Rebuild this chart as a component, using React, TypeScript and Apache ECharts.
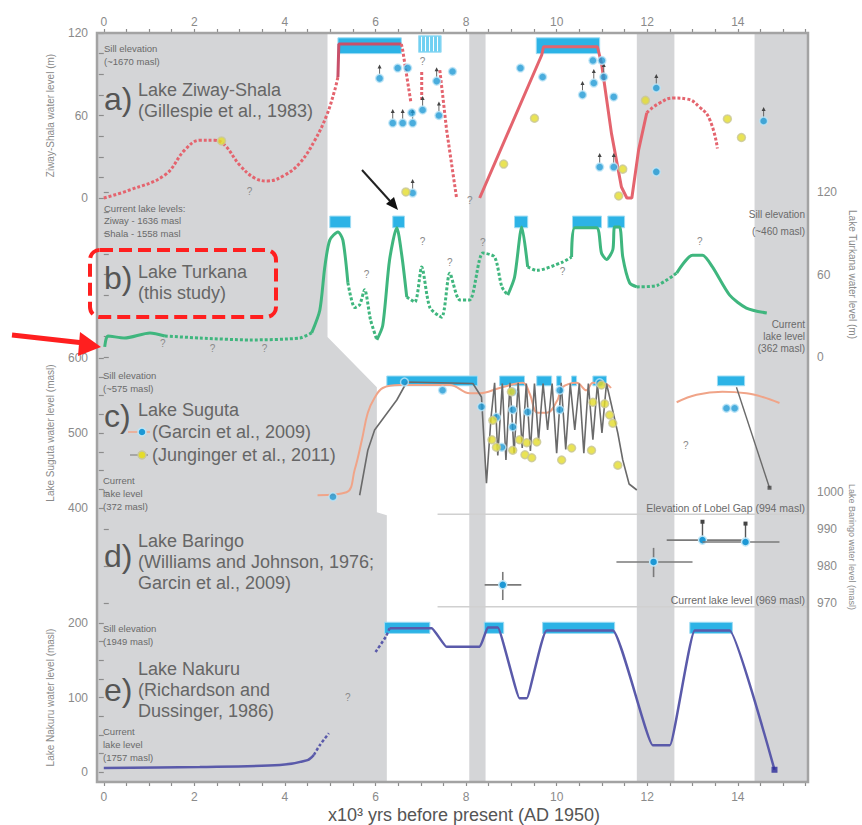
import React, { useEffect, useRef } from 'react';
import * as echarts from 'echarts';

const FONT = "'Liberation Sans', Arial, Helvetica, sans-serif";
const X_MIN = -0.15;
const X_MAX = 15.55;

// ---------- axes ----------
const xTickValues = [0, 0.5, 1, 1.5, 2, 2.5, 3, 3.5, 4, 4.5, 5, 5.5, 6, 6.5, 7, 7.5, 8, 8.5, 9, 9.5, 10, 10.5, 11, 11.5, 12, 12.5, 13, 13.5, 14, 14.5, 15, 15.5];
const xLabelValues = [0, 2, 4, 6, 8, 10, 12, 14];
const zwTickValues = [0, 15, 30, 45, 60, 75, 90, 105, 120];
const zwLabelValues = [0, 60, 120];
const tkTickValues = [0, 15, 30, 45, 60, 75, 90, 105, 120];
const tkLabelValues = [0, 60, 120];
const sgTickValues = [400, 425, 450, 475, 500, 525, 550, 575, 600];
const sgLabelValues = [400, 500, 600];
const brTickValues = [970, 980, 990, 1000];
const nkTickValues = [0, 25, 50, 75, 100, 125, 150, 175, 200];
const nkLabelValues = [0, 100, 200];

// ---------- dry phases (kyr BP). outline y = fraction of full plot height, 0 = top ----------
const dryBands = [[8.07, 8.43], [11.77, 12.6], [14.37, 15.55]];
const earlyDryOutline = [[-0.15, 0], [4.94, 0], [4.94, 0.406], [6.03, 0.473], [6.03, 0.64], [6.25, 0.644], [6.25, 1], [-0.15, 1]];

// ---------- a) Ziway-Shala (m above current) ----------
const zwCurveEarly = [[0, 0], [0.57, 5.8], [1.35, 16.7], [1.79, 35], [2.12, 42], [2.45, 42], [2.67, 38.5], [3.0, 24], [3.33, 14.5], [3.62, 12.4], [4.0, 16.7], [4.33, 25.5], [4.66, 42], [4.92, 60], [5.1, 78.5], [5.17, 88]];
const zwHighstand1 = [[5.17, 88], [5.19, 112], [6.57, 112]];
const zwFall1 = [[6.57, 112], [6.6, 107.6], [6.78, 69.8]];
const zwFall2 = [[7.02, 91.6], [7.02, 71.3]];
const zwFall3 = [[7.42, 93], [7.57, 49.5], [7.79, 0]];
const zwHighstand2 = [[8.3, 0], [9.67, 104], [9.71, 110], [10.9, 110], [10.99, 98], [11.21, 47], [11.43, 8], [11.55, 0], [11.66, 0], [11.81, 35], [11.99, 62]];
const zwLate = [[11.99, 62], [12.27, 69], [12.6, 72.7], [12.87, 72], [13.16, 66], [13.38, 57], [13.55, 36]];
const zwBars = [[5.17, 6.57, 105, 116.5], [9.55, 10.95, 105, 116.5]];
const zwStripedBars = [[6.95, 7.45, 106, 118]];
// x, y, 1 = minimum estimate (arrow up)
const zwBlue = [[6.09, 87, 1], [6.49, 94.5, 0], [6.71, 94.5, 0], [6.38, 54.5, 1], [6.6, 54.5, 1], [6.82, 54.5, 1], [6.8, 62, 0], [7.04, 64, 1], [6.82, 3.6, 1], [7.35, 85, 1], [7.7, 92, 0], [7.4, 60, 1], [9.2, 94.5, 0], [9.69, 88, 0], [10.8, 100, 0], [11.0, 100, 0], [10.82, 83.6, 1], [11.04, 88, 1], [10.57, 75, 1], [11.26, 73.5, 0], [12.2, 80, 1], [10.95, 22.5, 1], [11.26, 22.5, 1], [12.2, 19, 0], [14.57, 56, 1]];
const zwYellow = [[2.6, 41.5], [6.67, 4.4], [9.51, 58], [8.83, 24.7], [11.46, 21], [11.37, 1.5], [11.96, 71], [13.77, 57.5], [14.08, 44]];
const zwQuestion = [[3.22, 4.4], [7.04, 99], [8.08, -1.5]];

// ---------- b) Turkana (m above current); 3rd value: 1 = solid segment, 0 = dashed ----------
const tkLevel = [
  [0.02, 7.3, 1], [0.09, 15.3, 1], [0.46, 13.8, 1], [1.02, 17.5, 1], [1.35, 15.3, 0], [2.12, 13.8, 0], [3.22, 12.4, 0], [4.33, 13.8, 0],
  [4.59, 17.5, 1], [4.77, 34, 1], [4.88, 65.5, 1], [4.99, 85, 1], [5.17, 91, 1], [5.28, 85, 1], [5.39, 54, 0], [5.54, 36, 0], [5.65, 38, 0],
  [5.76, 49, 0], [5.89, 27, 0], [6.03, 12.4, 1], [6.16, 23, 1], [6.31, 70.5, 1], [6.47, 94, 1], [6.58, 74, 1], [6.69, 43.6, 0], [6.87, 40, 0],
  [7.02, 65.5, 0], [7.2, 36, 0], [7.46, 29, 0], [7.64, 61, 0], [7.86, 41.5, 0], [8.08, 41.5, 0], [8.37, 75.6, 0], [8.63, 72.7, 0],
  [8.79, 51, 0], [8.92, 45, 1], [9.07, 58, 1], [9.23, 94.5, 1], [9.36, 65.5, 0], [9.56, 63, 0], [10.13, 69, 0], [10.33, 72.7, 1],
  [10.4, 94, 1], [10.88, 94, 1], [10.99, 75.6, 1], [11.1, 71, 1], [11.24, 78, 1], [11.28, 94.5, 1], [11.39, 94.5, 1], [11.46, 72.7, 1],
  [11.61, 54, 1], [11.77, 51, 0], [12.21, 52, 0], [12.65, 61, 1], [13.0, 74, 1], [13.22, 74, 1], [13.44, 65.5, 1], [13.82, 45, 1],
  [14.19, 35.6, 1], [14.64, 32, 1]
];
const tkBars = [[4.99, 5.45, 94, 102.5], [6.38, 6.64, 94, 102.5], [9.07, 9.36, 94, 102.5], [10.35, 10.99, 94, 102.5], [11.13, 11.5, 94, 102.5]];
const tkQuestion = [[1.3, 10], [2.4, 6.5], [3.55, 6.5], [5.8, 60], [7.04, 84], [7.64, 69], [8.37, 83], [10.13, 62], [13.16, 84]];

// ---------- c) Suguta (masl) ----------
const sgModel1 = [[4.72, 417], [5.36, 421], [5.54, 451], [5.7, 491], [5.83, 527], [5.98, 547], [6.16, 560], [6.53, 564], [7.64, 564], [8.08, 553], [8.3, 553], [8.74, 560], [9.25, 567], [9.4, 553], [9.58, 527], [9.78, 527], [10.02, 544], [10.11, 560], [10.44, 567], [10.66, 557], [10.8, 567], [11.1, 565], [11.2, 560]];
const sgModel2 = [[12.65, 541], [13.09, 551], [13.66, 555], [14.19, 553], [14.55, 548], [14.92, 540]];
const sgRecon1 = [[5.65, 417], [5.83, 477], [5.98, 504], [6.47, 544], [6.69, 568], [8.15, 566], [8.34, 548], [8.45, 433], [8.55, 520], [8.63, 567], [8.7, 470], [8.8, 566], [8.88, 464], [8.97, 567], [9.06, 473], [9.15, 567], [9.24, 480], [9.33, 566], [9.42, 476], [9.51, 566], [9.6, 490], [9.7, 566], [9.8, 504], [9.9, 566], [10.0, 473], [10.1, 567], [10.2, 478], [10.3, 566], [10.4, 504], [10.5, 566], [10.6, 473], [10.7, 566], [10.8, 491], [10.9, 566], [11.0, 500], [11.1, 566], [11.2, 540], [11.35, 500], [11.46, 464], [11.6, 432], [11.77, 424]];
const sgRecon2 = [[13.97, 561], [14.7, 427]];
const sgBars = [[6.25, 8.25, 563, 576], [8.74, 9.29, 563, 576], [9.56, 9.89, 563, 576], [10.0, 10.1, 563, 576], [10.33, 10.44, 563, 576], [10.8, 11.1, 563, 576], [13.55, 14.15, 563, 576]];
const sgBlue = [[5.06, 415], [6.64, 568], [7.48, 557], [8.34, 535], [8.67, 521], [8.79, 481], [9.03, 555], [9.03, 531], [9.03, 508], [9.36, 528], [10.07, 557], [10.07, 531], [10.95, 567], [13.75, 533], [13.93, 533]];
const sgYellow = [[8.59, 517], [8.57, 491], [8.67, 481], [9.03, 477], [9.18, 491], [9.34, 487], [9.56, 488], [9.3, 471], [9.45, 467], [10.11, 464], [10.33, 480], [10.77, 477], [10.8, 541], [11.06, 539], [10.99, 564], [11.17, 524], [11.24, 513], [11.35, 457], [9.0, 555]];
const sgQuestion = [[12.85, 484]];

// ---------- d) Baringo (masl): x, y, xMin, xMax, yMin, yMax, minimum-only flag ----------
const brPoints = [
  [8.81, 974.9, 8.41, 9.22, 970.8, 978.4, 0],
  [12.14, 981.1, 11.32, 13.0, 977, 984.9, 0],
  [13.22, 987, 12.43, 14.17, 987, 987, 1],
  [14.17, 986.5, 13.22, 14.92, 986.5, 986.5, 1]
];
const brLobelGap = [[7.37, 994], [15.55, 994]];
const brCurrent = [[7.37, 969], [15.55, 969]];

// ---------- e) Nakuru (m above current) ----------
const nkEarly = [[0, 5.4], [2.12, 6.7], [3.89, 9.4], [4.5, 16], [4.64, 23]];
const nkEarlyDashed = [[4.64, 23], [4.77, 36], [4.97, 52]];
const nkRiseDashed = [[6.0, 161], [6.23, 182], [6.31, 193]];
const nkMain = [[6.31, 193], [7.24, 193], [7.57, 168], [8.3, 168], [8.48, 194], [8.7, 194], [9.18, 99], [9.34, 99], [9.78, 190], [11.24, 190], [12.12, 36], [12.5, 36], [13.05, 190], [13.82, 190], [14.81, 3]];
const nkBars = [[6.2, 7.2, 186, 201], [8.4, 8.83, 186, 201], [9.69, 11.28, 186, 201], [12.94, 13.88, 186, 201]];
const nkQuestion = [[5.39, 100]];

// ---------- styles ----------
const GREY = '#d4d5d7';
const AXIS_GREY = '#8c8c8c';
const TEXT_GREY = '#6a6a6a';
const BLUE_BAR = '#2cb3e6';
const BLUE_DOT = '#1d98d5';
const YELLOW_DOT = '#e4dc2a';
const RED = '#e4646e';
const GREEN = '#3fb67e';
const NAKURU = '#5a5aaa';

const ax = (p: number) => ({ xAxisIndex: p + 1, yAxisIndex: p });

const line = (p: number, data: number[][], color: string, width: number, dashed = false, smooth: number | boolean = false, z = 4) => ({
  type: 'line', ...ax(p), data, symbol: 'none', showSymbol: false, smooth, clip: false, z, silent: true,
  lineStyle: { color, width, type: dashed ? [3, 2] : 'solid' }
});

const dots = (p: number, data: number[][], color: string, border: string, size = 8, z = 6) => ({
  type: 'scatter', ...ax(p), data, symbol: 'circle', symbolSize: size, clip: false, z, silent: true,
  itemStyle: { color, borderColor: border, borderWidth: 1.5 }
});

// small "minimum estimate" arrows above flagged points
const minArrows = (p: number, data: number[][]) => ({
  type: 'custom', ...ax(p), data: data.filter((d) => d[2] === 1), clip: false, z: 5, silent: true,
  renderItem: (params: any, api: any) => {
    const c = api.coord([api.value(0), api.value(1)]);
    return {
      type: 'group', children: [
        { type: 'line', shape: { x1: c[0], y1: c[1] - 4, x2: c[0], y2: c[1] - 11 }, style: { stroke: '#666', lineWidth: 1 } },
        { type: 'polygon', shape: { points: [[c[0], c[1] - 14], [c[0] - 2, c[1] - 10], [c[0] + 2, c[1] - 10]] }, style: { fill: '#444' } }
      ]
    };
  }
});

const bars = (p: number, data: number[][], color: string, striped = false) => ({
  type: 'custom', ...ax(p), data, clip: false, z: 3, silent: true,
  renderItem: (params: any, api: any) => {
    const a = api.coord([api.value(0), api.value(3)]);
    const b = api.coord([api.value(1), api.value(2)]);
    const w = b[0] - a[0];
    const h = b[1] - a[1];
    const children: any[] = [{ type: 'rect', shape: { x: a[0], y: a[1], width: w, height: h }, style: { fill: color, stroke: '#9fdcf3', lineWidth: 1 } }];
    if (striped) {
      for (let sx = a[0] + 3; sx < a[0] + w - 1; sx += 4) {
        children.push({ type: 'line', shape: { x1: sx, y1: a[1] + 1, x2: sx, y2: a[1] + h - 1 }, style: { stroke: '#ffffff', lineWidth: 1 } });
      }
    }
    return { type: 'group', children };
  }
});

const questions = (p: number, data: number[][]) => ({
  type: 'custom', ...ax(p), data, clip: false, z: 7, silent: true,
  renderItem: (params: any, api: any) => {
    const c = api.coord([api.value(0), api.value(1)]);
    return { type: 'text', x: c[0], y: c[1], style: { text: '?', fill: '#8a8a8a', font: `10px ${FONT}`, align: 'center', verticalAlign: 'middle' } };
  }
});

// split a flagged point list into solid / dashed runs
const flaggedRuns = (pts: number[][]) => {
  const runs: { solid: boolean; data: number[][] }[] = [];
  for (let i = 0; i < pts.length - 1; i++) {
    const solid = pts[i][2] === 1;
    const seg = [[pts[i][0], pts[i][1]], [pts[i + 1][0], pts[i + 1][1]]];
    const last = runs[runs.length - 1];
    if (last && last.solid === solid) last.data.push(seg[1]);
    else runs.push({ solid, data: seg });
  }
  return runs;
};

const yAxisBase = (grid: number, position: string, min: number, max: number, ticks: number[], labels: number[], name: string, nameGap: number, rotate: number, nameSize = 10) => ({
  type: 'value', gridIndex: grid, position, min, max, name, nameLocation: 'middle', nameGap, nameRotate: rotate,
  nameTextStyle: { color: '#8a8a8a', fontSize: nameSize, fontFamily: FONT },
  axisLine: { show: false },
  axisTick: { show: true, customValues: ticks, length: 5, lineStyle: { color: AXIS_GREY, width: 1.2 } },
  axisLabel: { show: true, customValues: labels, color: '#8a8a8a', fontSize: 12, fontFamily: FONT, margin: 9, formatter: (v: number) => String(v) },
  splitLine: { show: false }
});

const xAxisMain = (position: string, margin: number) => ({
  type: 'value', gridIndex: 0, position, min: X_MIN, max: X_MAX,
  axisLine: { show: false },
  axisTick: { show: true, customValues: xTickValues, length: 4, lineStyle: { color: AXIS_GREY, width: 1.2 } },
  axisLabel: { show: true, customValues: xLabelValues, color: '#8a8a8a', fontSize: 12, fontFamily: FONT, margin },
  splitLine: { show: false }
});

const txt = (x: number, y: number, text: string, size = 9.5, align = 'left', fill = TEXT_GREY) => ({
  type: 'text', x, y, z: 60, silent: true,
  style: { text, fill, font: `${size}px ${FONT}`, align, verticalAlign: 'middle' }
});

function buildOption() {
  const L = 97;
  const R = 54;
  const tkRuns = flaggedRuns(tkLevel);
  const TITLE = 18;

  const series: any[] = [
    // dry phases (background)
    {
      type: 'custom', xAxisIndex: 0, yAxisIndex: 0, data: [earlyDryOutline[0]], clip: false, z: 0, silent: true,
      renderItem: (params: any, api: any) => ({
        type: 'polygon', shape: { points: earlyDryOutline.map((pt) => api.coord(pt)) }, style: { fill: GREY }
      })
    },
    {
      type: 'custom', xAxisIndex: 0, yAxisIndex: 0, data: dryBands, clip: false, z: 0, silent: true,
      renderItem: (params: any, api: any) => {
        const a = api.coord([api.value(0), 0]);
        const b = api.coord([api.value(1), 1]);
        return { type: 'rect', shape: { x: a[0], y: a[1], width: b[0] - a[0], height: b[1] - a[1] }, style: { fill: GREY } };
      }
    },

    // a) Ziway-Shala
    bars(1, zwBars, BLUE_BAR),
    bars(1, zwStripedBars, '#6fd0f2', true),
    line(1, zwCurveEarly, RED, 3, true, 0.4),
    line(1, zwHighstand1, '#c8506a', 3),
    line(1, zwFall1, RED, 3, true),
    line(1, zwFall2, RED, 3, true),
    line(1, zwFall3, RED, 3, true),
    line(1, zwHighstand2, RED, 3),
    line(1, zwLate, RED, 3, true, 0.5),
    minArrows(1, zwBlue),
    dots(1, zwBlue, BLUE_DOT, '#bfe6f7'),
    dots(1, zwYellow, YELLOW_DOT, '#c9c79a'),
    questions(1, zwQuestion),

    // b) Turkana
    bars(2, tkBars, BLUE_BAR),
    ...tkRuns.map((r) => line(2, r.data, GREEN, 3, !r.solid, 0.25)),
    questions(2, tkQuestion),

    // c) Suguta
    bars(3, sgBars, BLUE_BAR),
    line(3, sgModel1, '#f0a488', 2, false, 0.4, 3),
    line(3, sgModel2, '#f0a488', 2, false, 0.4, 3),
    line(3, sgRecon1, '#6a6a6a', 1.6, false, false, 4),
    line(3, sgRecon2, '#6a6a6a', 1.4, false, false, 4),
    {
      type: 'scatter', ...ax(3), data: [sgRecon2[1]], symbol: 'rect', symbolSize: 4, clip: false, z: 5, silent: true,
      itemStyle: { color: '#444' }
    },
    dots(3, sgBlue, BLUE_DOT, '#bfe6f7'),
    dots(3, sgYellow, YELLOW_DOT, '#c9c79a'),
    questions(3, sgQuestion),

    // d) Baringo
    line(4, brLobelGap, '#d0d0d0', 1.5, false, false, 2),
    line(4, brCurrent, '#d0d0d0', 1.5, false, false, 2),
    {
      type: 'custom', ...ax(4), data: brPoints, clip: false, z: 5, silent: true,
      renderItem: (params: any, api: any) => {
        const x = api.value(0), y = api.value(1);
        const c = api.coord([x, y]);
        const l = api.coord([api.value(2), y]);
        const r = api.coord([api.value(3), y]);
        const b = api.coord([x, api.value(4)]);
        const t = api.coord([x, api.value(5)]);
        const children: any[] = [
          { type: 'line', shape: { x1: l[0], y1: l[1], x2: r[0], y2: r[1] }, style: { stroke: '#7a7a7a', lineWidth: 1.6 } }
        ];
        if (api.value(6) === 1) {
          const up = api.coord([x, y + 5.5]);
          children.push({ type: 'line', shape: { x1: c[0], y1: c[1], x2: up[0], y2: up[1] + 2 }, style: { stroke: '#555', lineWidth: 1.4 } });
          children.push({ type: 'rect', shape: { x: up[0] - 2, y: up[1], width: 4, height: 4 }, style: { fill: '#444' } });
        } else {
          children.push({ type: 'line', shape: { x1: b[0], y1: b[1], x2: t[0], y2: t[1] }, style: { stroke: '#7a7a7a', lineWidth: 1.6 } });
        }
        children.push({ type: 'circle', shape: { cx: c[0], cy: c[1], r: 4 }, style: { fill: BLUE_DOT, stroke: '#bfe6f7', lineWidth: 1.5 } });
        return { type: 'group', children };
      }
    },

    // e) Nakuru
    bars(5, nkBars, BLUE_BAR),
    line(5, nkEarly, NAKURU, 2.5, false, 0.3),
    line(5, nkEarlyDashed, NAKURU, 2.5, true, 0.3),
    line(5, nkRiseDashed, NAKURU, 2.5, true, 0.3),
    line(5, nkMain, NAKURU, 2.5, false, 0.1),
    {
      type: 'scatter', ...ax(5), data: [nkMain[nkMain.length - 1]], symbol: 'rect', symbolSize: 6, clip: false, z: 6, silent: true,
      itemStyle: { color: '#2a2a9a' }
    },
    questions(5, nkQuestion)
  ];

  const graphic: any[] = [
    // frame
    { type: 'rect', z: 40, silent: true, shape: { x: L, y: 33, width: 862 - L - R, height: 749 }, style: { fill: 'none', stroke: '#a3a3a3', lineWidth: 2.5 } },

    // a
    txt(104, 48, 'Sill elevation'),
    txt(104, 61, '(~1670 masl)'),
    txt(104, 99, 'a)', 32, 'left', '#555'),
    txt(138, 90, 'Lake Ziway-Shala', TITLE, 'left', '#666'),
    txt(138, 111, '(Gillespie et al., 1983)', TITLE, 'left', '#666'),
    txt(104, 208, 'Current lake levels:'),
    txt(104, 220, 'Ziway - 1636 masl'),
    txt(104, 233, 'Shala - 1558 masl'),

    // b
    txt(104, 278, 'b)', 32, 'left', '#555'),
    txt(138, 272, 'Lake Turkana', TITLE, 'left', '#666'),
    txt(138, 293, '(this study)', TITLE, 'left', '#666'),
    txt(805, 214, 'Sill elevation', 10, 'right'),
    txt(805, 231, '(~460 masl)', 10, 'right'),
    txt(805, 324, 'Current', 10, 'right'),
    txt(805, 336, 'lake level', 10, 'right'),
    txt(805, 348, '(362 masl)', 10, 'right'),
    { type: 'rect', z: 55, silent: true, shape: { x: 90, y: 250, width: 186, height: 67, r: 10 }, style: { fill: 'none', stroke: '#ff1f1f', lineWidth: 4, lineDash: [13, 6] } },
    { type: 'line', z: 55, silent: true, shape: { x1: 12, y1: 335, x2: 84, y2: 343 }, style: { stroke: '#ff1f1f', lineWidth: 5 } },
    { type: 'polygon', z: 55, silent: true, shape: { points: [[101, 347], [80, 332], [78, 356]] }, style: { fill: '#ff1f1f' } },
    { type: 'line', z: 55, silent: true, shape: { x1: 362, y1: 170, x2: 390, y2: 201 }, style: { stroke: '#222', lineWidth: 2 } },
    { type: 'polygon', z: 55, silent: true, shape: { points: [[398, 210], [386, 204], [394, 197]] }, style: { fill: '#111' } },

    // c
    txt(103, 375, 'Sill elevation'),
    txt(103, 388, '(~575 masl)'),
    txt(104, 416, 'c)', 32, 'left', '#555'),
    txt(138, 410, 'Lake Suguta', TITLE, 'left', '#666'),
    { type: 'line', z: 55, silent: true, shape: { x1: 128, y1: 432, x2: 150, y2: 432 }, style: { stroke: '#f0a488', lineWidth: 1.5 } },
    { type: 'circle', z: 56, silent: true, shape: { cx: 142, cy: 432, r: 4 }, style: { fill: BLUE_DOT, stroke: '#bfe6f7', lineWidth: 1.5 } },
    txt(152, 432, '(Garcin et al., 2009)', TITLE, 'left', '#666'),
    { type: 'line', z: 55, silent: true, shape: { x1: 130, y1: 455, x2: 148, y2: 455 }, style: { stroke: '#888', lineWidth: 1.2 } },
    { type: 'circle', z: 56, silent: true, shape: { cx: 142, cy: 455, r: 4 }, style: { fill: YELLOW_DOT, stroke: '#c9c79a', lineWidth: 1.5 } },
    txt(152, 455, '(Junginger et al., 2011)', TITLE, 'left', '#666'),
    txt(103, 480, 'Current'),
    txt(103, 493, 'lake level'),
    txt(103, 506, '(372 masl)'),

    // d
    txt(104, 556, 'd)', 32, 'left', '#555'),
    txt(138, 541, 'Lake Baringo', TITLE, 'left', '#666'),
    txt(138, 562, '(Williams and Johnson, 1976;', TITLE, 'left', '#666'),
    txt(138, 583, 'Garcin et al., 2009)', TITLE, 'left', '#666'),
    txt(805, 508, 'Elevation of Lobel Gap (994 masl)', 10.5, 'right'),
    txt(805, 600, 'Current lake level (969 masl)', 10.5, 'right'),
    {
      type: 'text', x: 852, y: 547, rotation: -Math.PI / 2, z: 60, silent: true,
      style: { text: 'Lake Baringo water level (masl)', fill: '#8a8a8a', font: `9px ${FONT}`, align: 'center', verticalAlign: 'middle' }
    },

    // e
    txt(103, 628, 'Sill elevation'),
    txt(103, 641, '(1949 masl)'),
    txt(104, 690, 'e)', 32, 'left', '#555'),
    txt(138, 669, 'Lake Nakuru', TITLE, 'left', '#666'),
    txt(138, 690, '(Richardson and', TITLE, 'left', '#666'),
    txt(138, 711, 'Dussinger, 1986)', TITLE, 'left', '#666'),
    txt(103, 731, 'Current'),
    txt(103, 744, 'lake level'),
    txt(103, 757, '(1757 masl)'),

    // x axis title
    txt(464, 815, 'x10\u00b3 yrs before present (AD 1950)', 18, 'center', '#555')
  ];

  const g = (top: number, height: number) => ({ left: L, right: R, top, height, containLabel: false, outerBoundsMode: 'none' });

  return {
    animation: false,
    backgroundColor: '#ffffff',
    grid: [g(33, 749), g(33, 165), g(192, 165), g(358, 150), g(492, 111), g(623, 149)],
    xAxis: [
      xAxisMain('top', 5),
      xAxisMain('bottom', 9),
      { type: 'value', gridIndex: 1, min: X_MIN, max: X_MAX, show: false },
      { type: 'value', gridIndex: 2, min: X_MIN, max: X_MAX, show: false },
      { type: 'value', gridIndex: 3, min: X_MIN, max: X_MAX, show: false },
      { type: 'value', gridIndex: 4, min: X_MIN, max: X_MAX, show: false },
      { type: 'value', gridIndex: 5, min: X_MIN, max: X_MAX, show: false }
    ],
    yAxis: [
      { type: 'value', gridIndex: 0, min: 0, max: 1, inverse: true, show: false },
      yAxisBase(1, 'left', 0, 120, zwTickValues, zwLabelValues, 'Ziway-Shala water level (m)', 42, 90),
      yAxisBase(2, 'right', 0, 120, tkTickValues, tkLabelValues, 'Lake Turkana water level (m)', 36, -90),
      yAxisBase(3, 'left', 400, 600, sgTickValues, sgLabelValues, 'Lake Suguta water level (masl)', 42, 90),
      yAxisBase(4, 'right', 970, 1000, brTickValues, brTickValues, '', 28, -90, 9),
      yAxisBase(5, 'left', 0, 200, nkTickValues, nkLabelValues, 'Lake Nakuru water level (masl)', 42, 90)
    ],
    series,
    graphic
  };
}

export default function App() {
  const ref = useRef<HTMLDivElement>(null);
  useEffect(() => {
    if (!ref.current) return;
    const chart = echarts.init(ref.current, null, { renderer: 'svg' });
    chart.setOption(buildOption() as any);
    return () => chart.dispose();
  }, []);
  return <div ref={ref} style={{ position: 'absolute', left: 0, top: 0, width: 862, height: 825 }} />;
}
